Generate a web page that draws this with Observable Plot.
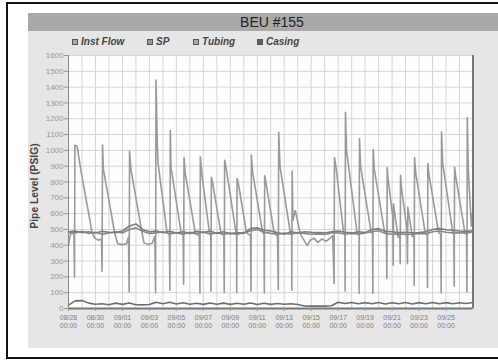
<!DOCTYPE html>
<html><head><meta charset="utf-8">
<script src="https://cdn.jsdelivr.net/npm/d3@7"></script>
<script src="https://cdn.jsdelivr.net/npm/@observablehq/plot@0.6"></script>
<style>
html,body{margin:0;padding:0;}
body{width:498px;height:360px;position:relative;overflow:hidden;background:#fff;font-family:"Liberation Sans",Arial,sans-serif;}
#frame{position:absolute;left:6px;top:2px;width:530px;height:357px;border:2px solid #111;box-sizing:border-box;}
#panel{position:absolute;left:28px;top:13px;width:470px;height:335px;background:#e6e6e6;}
#titlebar{position:absolute;left:28px;top:13px;width:470px;height:18px;background:#a9a9a9;}
#title{position:absolute;left:28px;top:13px;width:488px;height:18px;line-height:18px;text-align:center;font-size:14px;color:#222;}
.sw{position:absolute;top:39px;width:4px;height:4px;border:1px solid #555;}
.lt{position:absolute;top:37px;height:10px;line-height:10px;font-size:10px;font-weight:bold;font-style:italic;color:#444;white-space:nowrap;}
#ylabel{position:absolute;left:33.5px;top:186px;transform:translate(-50%,-50%) rotate(-90deg);font-size:10.3px;font-weight:bold;color:#444;white-space:nowrap;}
#chart{position:absolute;left:28px;top:48px;}
</style></head>
<body>
<div id="frame"></div>
<div id="panel"></div>
<div id="titlebar"></div>
<div id="title"></div>
<div id="legend"></div>
<div id="ylabel"></div>
<div id="chart"></div>
<script>
const chartTitle = "BEU #155";
const yAxisLabel = "Pipe Level (PSIG)";
const seriesNames = ["Inst Flow", "SP", "Tubing", "Casing"];
const seriesSwatch = ["#a8a8a8", "#999999", "#ababab", "#606060"];
const seriesStroke = ["#6e6e6e", "#7d7d7d", "#9a9a9a", "#8a8a8a"];

const startDate = "2008-08-28";
const endDate = "2008-09-27";
const xTickDates = ["2008-08-28","2008-08-30","2008-09-01","2008-09-03","2008-09-05","2008-09-07","2008-09-09","2008-09-11","2008-09-13","2008-09-15","2008-09-17","2008-09-19","2008-09-21","2008-09-23","2008-09-25"];
const xTickTime = "00:00";
const yTicks = [0,100,200,300,400,500,600,700,800,900,1000,1100,1200,1300,1400,1500,1600];

// Sampled every half day starting 08/28 00:00
const sampleStepDays = 0.5;
const instFlow = [21,48,50,34,27,30,24,34,26,35,24,23,25,40,30,40,28,36,27,33,26,35,27,34,26,33,27,35,25,33,26,32,27,30,25,16,15,15,15,17,40,32,38,30,37,30,38,28,36,30,38,29,37,30,38,30,37,30,36,32,38];
const sp = [485,490,480,485,478,488,482,480,490,520,535,500,485,490,480,488,478,485,475,488,480,490,475,485,472,480,475,505,510,495,490,480,470,485,478,485,482,480,478,485,490,482,478,485,480,500,505,488,485,480,482,478,480,485,500,505,498,495,490,488,492];
const casing = [480,478,488,475,482,470,478,485,478,500,510,488,475,478,485,472,480,470,482,472,485,470,480,470,478,468,480,490,500,482,475,470,478,470,480,475,470,472,468,478,480,470,475,470,478,485,492,475,470,472,468,470,475,472,485,490,482,478,480,475,485];

// Tubing: [days since 08/28 00:00, PSIG]
const tubing = [
[0,400],[0.1,455],[0.2,478],[0.4,470],[0.445,200],[0.475,1033],[0.64,1025],[0.92,873],[1.74,484],[1.95,445],[2.2,432],[2.45,440],
[2.49,236],[2.524,1033],[2.59,880],[3.42,480],[3.65,410],[4.0,404],[4.3,410],[4.45,450],
[4.5,105],[4.529,995],[4.63,880],[5.45,480],[5.6,415],[5.9,405],[6.2,412],[6.4,455],
[6.46,100],[6.489,1444],[6.585,1040],[6.637,922],[7.3,484],[7.48,470],
[7.52,116],[7.55,1125],[7.6,895],[8.35,480],[8.5,465],
[8.54,153],[8.567,954],[8.65,860],[9.4,480],[9.7,460],
[9.75,98],[9.777,960],[9.9,845],[10.45,480],[10.55,470],
[10.565,111],[10.594,830],[10.68,800],[11.3,480],[11.52,462],
[11.55,101],[11.581,937],[11.68,895],[12.42,480],[12.47,470],
[12.475,101],[12.502,820],[12.58,800],[13.2,480],[13.5,460],
[13.535,111],[13.563,970],[13.66,860],[14.4,480],[14.5,470],
[14.525,98],[14.551,840],[14.62,810],[15.25,480],[15.5,455],
[15.56,120],[15.59,1114],[15.69,895],[16.45,480],[16.55,465],
[16.56,116],[16.585,870],[16.65,560],[16.82,620],[17.2,470],[17.7,398],[17.9,430],[18.2,445],[18.5,418],[18.8,440],[19.1,425],[19.4,445],[19.6,460],
[19.7,158],[19.725,954],[19.84,895],[20.4,480],[20.5,470],
[20.515,110],[20.542,1241],[20.62,1000],[21.4,480],[21.55,468],
[21.555,95],[21.581,1075],[21.66,900],[22.45,480],[22.55,470],
[22.57,95],[22.598,1006],[22.68,880],[23.45,480],[23.58,470],
[23.61,190],[23.638,891],[23.7,820],[24.05,580],
[24.08,274],[24.105,662],[24.2,600],[24.45,450],[24.57,470],
[24.6,284],[24.625,843],[24.7,760],[25.1,500],
[25.14,284],[25.167,640],[25.25,590],[25.5,455],[25.62,465],
[25.64,147],[25.664,954],[25.75,860],[26.45,480],[26.6,470],
[26.625,133],[26.652,916],[26.73,850],[27.45,480],[27.6,470],
[27.64,98],[27.669,1116],[27.75,920],[28.5,480],[28.58,468],
[28.605,141],[28.634,895],[28.71,840],[29.4,480],[29.52,470],
[29.55,105],[29.577,1208],[29.65,880],[29.88,520],[29.95,600]
];

const t0 = new Date(startDate + "T00:00:00Z").getTime();
const toDate = d => new Date(t0 + d * 864e5);
const tEnd = new Date(endDate + "T00:00:00Z");

const rows = [];
instFlow.forEach((v,i) => rows.push({s: "Inst Flow", t: toDate(i*sampleStepDays), v}));
sp.forEach((v,i) => rows.push({s: "SP", t: toDate(i*sampleStepDays), v}));
casing.forEach((v,i) => rows.push({s: "Casing", t: toDate(i*sampleStepDays), v}));
tubing.forEach(([d,v]) => rows.push({s: "Tubing", t: toDate(d), v}));

document.getElementById("title").textContent = chartTitle;
document.getElementById("ylabel").textContent = yAxisLabel;

const legendSwatchX = [72, 147, 193, 257];
const legend = document.getElementById("legend");
seriesNames.forEach((n,i) => {
  const sw = document.createElement("div");
  sw.className = "sw"; sw.style.left = legendSwatchX[i] + "px"; sw.style.background = seriesSwatch[i];
  legend.appendChild(sw);
  const lt = document.createElement("div");
  lt.className = "lt"; lt.style.left = (legendSwatchX[i] + 9) + "px"; lt.textContent = n;
  legend.appendChild(lt);
});

const fmtDate = d3.utcFormat("%m/%d");
const xTicks = xTickDates.map(s => new Date(s + "T00:00:00Z"));
const dayGrid = d3.utcDay.range(new Date(t0), tEnd);
const x0 = new Date(t0);

const order = ["Tubing", "Casing", "SP", "Inst Flow"];
const strokeOf = Object.fromEntries(seriesNames.map((n,i) => [n, seriesStroke[i]]));

const chart = Plot.plot({
  width: 470,
  height: 300,
  marginTop: 7,
  marginLeft: 40,
  marginRight: 25.5,
  marginBottom: 40,
  style: {background: "transparent", fontFamily: "'Liberation Sans', Arial, sans-serif"},
  x: {type: "utc", domain: [x0, tEnd]},
  y: {domain: [0, 1600]},
  marks: [
    Plot.frame({fill: "#fdfdfd", stroke: "#b0b0b0"}),
    Plot.gridX(dayGrid, {stroke: "#d6d6d6", strokeOpacity: 1}),
    Plot.gridY(yTicks, {stroke: "#d6d6d6", strokeOpacity: 1}),
    ...order.map(n => Plot.line(rows.filter(r => r.s === n), {x: "t", y: "v", stroke: strokeOf[n], strokeWidth: 1.6})),
    Plot.ruleX([x0], {stroke: "#888", strokeWidth: 1}),
    Plot.ruleX([tEnd], {stroke: "#777", strokeWidth: 2}),
    Plot.ruleY([0], {stroke: "#777", strokeWidth: 2}),
    Plot.axisY(yTicks, {tickSize: 4, tickPadding: 1, fontSize: 8, fill: "#999", stroke: "#999", label: null, tickFormat: d => String(d)}),
    Plot.axisX(xTicks, {tickSize: 3, tickPadding: 3, fontSize: 7, lineHeight: 1.15, fill: "#808080", stroke: "#999", label: null,
      tickFormat: d => fmtDate(d) + "\n" + xTickTime})
  ]
});
document.getElementById("chart").appendChild(chart);
</script>
</body></html>
